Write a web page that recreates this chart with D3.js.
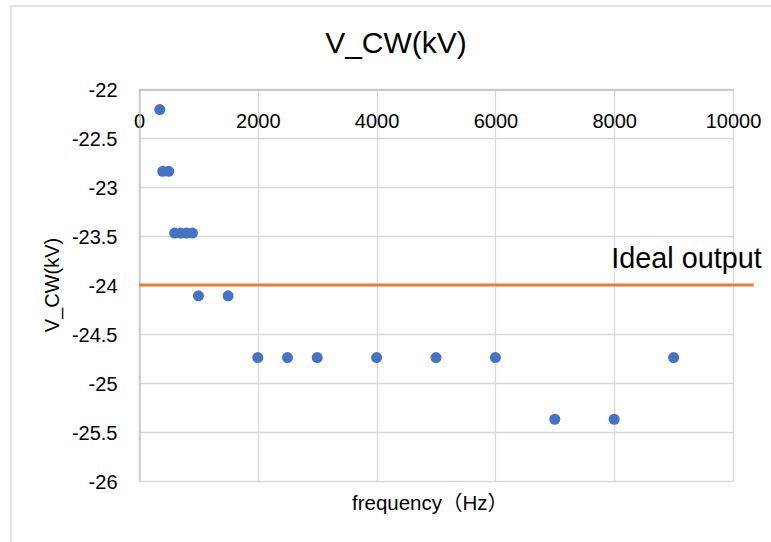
<!DOCTYPE html>
<html>
<head>
<meta charset="utf-8">
<script src="https://cdn.jsdelivr.net/npm/d3@7"></script>
<style>
  html, body { margin: 0; padding: 0; background: #fff; }
  svg { display: block; }
  text { font-family: "Liberation Sans", Arial, "Noto Sans CJK SC", sans-serif; fill: #000; }
</style>
</head>
<body>
<svg id="chart" width="771" height="542"></svg>
<script>
// Measured output voltage against frequency
const frequency = [350, 400, 500, 600, 700, 800, 900, 1000, 1500, 2000, 2500, 3000, 4000, 5000, 6000, 7000, 8000, 9000];
const vcw = [-22.21, -22.84, -22.84, -23.47, -23.47, -23.47, -23.47, -24.11, -24.11,
             -24.74, -24.74, -24.74, -24.74, -24.74, -24.74, -25.37, -25.37, -24.74];

// Reference level line
const idealFreq = [0, 10350];
const idealValue = [-24, -24];
const idealLabel = "Ideal output";

// Axis ticks
const xTicks = [0, 2000, 4000, 6000, 8000, 10000];
const yTicks = [-22, -22.5, -23, -23.5, -24, -24.5, -25, -25.5, -26];

const chartTitle = "V_CW(kV)";
const xTitle = "frequency（Hz）";
const yTitle = "V_CW(kV)";

const svg = d3.select("#chart");
const W = 771, H = 542;
const plot = { left: 139, right: 733, top: 89, bottom: 481 };

const x = d3.scaleLinear().domain([0, 10000]).range([plot.left, plot.right]);
const y = d3.scaleLinear().domain([-26, -22]).range([plot.bottom, plot.top]);

svg.append("rect").attr("width", W).attr("height", H).attr("fill", "#fff");

// chart frame
svg.append("rect")
  .attr("x", 11).attr("y", 6)
  .attr("width", W + 20).attr("height", H + 20)
  .attr("fill", "none").attr("stroke", "#d9d9d9").attr("stroke-width", 1.5);

// gridlines
svg.append("g").selectAll("line").data(yTicks).join("line")
  .attr("x1", plot.left).attr("x2", plot.right)
  .attr("y1", d => Math.round(y(d)) + 0.5).attr("y2", d => Math.round(y(d)) + 0.5)
  .attr("stroke", "#d9d9d9").attr("stroke-width", 1.3);
svg.append("g").selectAll("line").data(xTicks).join("line")
  .attr("x1", d => Math.round(x(d)) + 0.5).attr("x2", d => Math.round(x(d)) + 0.5)
  .attr("y1", plot.top).attr("y2", plot.bottom)
  .attr("stroke", "#d9d9d9").attr("stroke-width", 1.3);

// axis lines (x axis crosses at the top, y axis at zero frequency)
const xAxis = d3.axisBottom(x).tickValues(xTicks).tickSize(0).tickPadding(0).tickFormat(d3.format("d"));
const gx = svg.append("g").attr("transform", `translate(0,${Math.round(y(-22)) + 0.5})`).call(xAxis);
gx.select(".domain").attr("stroke", "#bfbfbf").attr("stroke-width", 1.3);
gx.selectAll("text")
  .attr("y", 38).attr("dy", null)
  .style("font-size", "20px")
  .style("font-family", "'Liberation Sans', Arial, sans-serif")
  .attr("fill", "#000");

const yAxis = d3.axisLeft(y).tickValues(yTicks).tickSize(0).tickPadding(0).tickFormat(d => String(d));
const gy = svg.append("g").attr("transform", `translate(${Math.round(x(0)) + 0.5},0)`).call(yAxis);
gy.select(".domain").attr("stroke", "#bfbfbf").attr("stroke-width", 1.3);
gy.selectAll("text")
  .attr("x", -22).attr("dy", "0.35em")
  .style("font-size", "20px")
  .style("font-family", "'Liberation Sans', Arial, sans-serif")
  .attr("fill", "#000");

// ideal output level
const line = d3.line().x(d => x(d[0])).y(d => y(d[1]));
svg.append("path")
  .datum(idealFreq.map((f, i) => [f, idealValue[i]]))
  .attr("d", line)
  .attr("fill", "none")
  .attr("stroke", "#ED7D31")
  .attr("stroke-width", 3.2);

svg.append("text")
  .attr("x", x(8000) - 3)
  .attr("y", y(idealValue[0]) - 17)
  .style("font-size", "28.8px")
  .text(idealLabel);

// measured points
svg.append("g").selectAll("circle").data(frequency.map((f, i) => [f, vcw[i]])).join("circle")
  .attr("cx", d => x(d[0]))
  .attr("cy", d => y(d[1]))
  .attr("r", 5.5)
  .attr("fill", "#4472C4");

// titles
svg.append("text")
  .attr("x", 396).attr("y", 53)
  .attr("text-anchor", "middle")
  .style("font-size", "30px")
  .text(chartTitle);

svg.append("text")
  .attr("x", 430).attr("y", 510)
  .attr("text-anchor", "middle")
  .style("font-size", "20.5px")
  .text(xTitle);

svg.append("text")
  .attr("transform", `translate(59,${(plot.top + plot.bottom) / 2}) rotate(-90)`)
  .attr("text-anchor", "middle")
  .style("font-size", "20px")
  .text(yTitle);
</script>
</body>
</html>
